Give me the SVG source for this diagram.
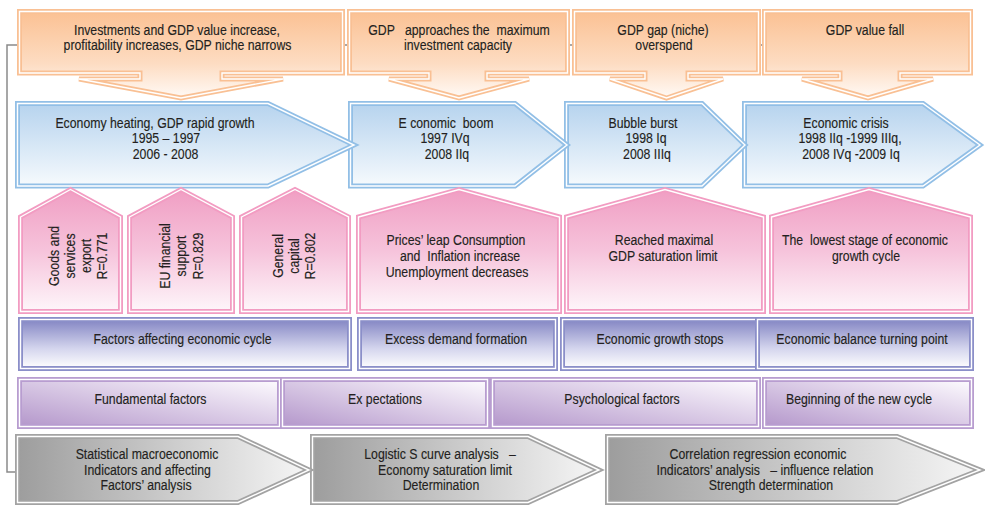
<svg xmlns="http://www.w3.org/2000/svg" xmlns:xlink="http://www.w3.org/1999/xlink" width="985" height="506" viewBox="0 0 985 506">
<style>
.t{font-family:"Liberation Sans",Arial,sans-serif;font-size:15px;fill:#231f20;stroke:#231f20;stroke-width:0.15;text-anchor:middle;transform-box:fill-box;transform-origin:center;transform:scaleX(0.82)}
.wl{fill:none;stroke:#ffffff;stroke-width:1.4}
.o{fill:url(#gOrange)} .ol{fill:none;stroke:#f9c094;stroke-width:5}
.b{fill:url(#gBlue)} .bl{fill:none;stroke:#92bfe6;stroke-width:5}
.p{fill:url(#gPink)} .pl{fill:none;stroke:#f29cc2;stroke-width:5}
.v{fill:url(#gViolet)} .vl{fill:none;stroke:#8b8fc9;stroke-width:5}
.l{fill:url(#gLav)} .ll{fill:none;stroke:#b89dd0;stroke-width:5}
.g{fill:url(#gGray)} .gl{fill:none;stroke:#a3a3a3;stroke-width:5}
.conn{fill:none;stroke:#8a8a8a;stroke-width:1.5}
</style>
<defs>
<linearGradient id="gOrange" x1="0" y1="0" x2="0" y2="1"><stop offset="0" stop-color="#fbc193"/><stop offset="0.6" stop-color="#fddcc2"/><stop offset="1" stop-color="#fffaf6"/></linearGradient>
<linearGradient id="gBlue" x1="0" y1="0" x2="0" y2="1"><stop offset="0" stop-color="#b6d3ee"/><stop offset="1" stop-color="#f6fafd"/></linearGradient>
<linearGradient id="gPink" x1="0" y1="0" x2="0" y2="1"><stop offset="0" stop-color="#f09ec3"/><stop offset="0.5" stop-color="#f6c3db"/><stop offset="1" stop-color="#fef6fa"/></linearGradient>
<linearGradient id="gViolet" x1="0" y1="0" x2="0" y2="1"><stop offset="0" stop-color="#8385c3"/><stop offset="0.6" stop-color="#d5d6ee"/><stop offset="1" stop-color="#ffffff"/></linearGradient>
<linearGradient id="gLav" x1="0" y1="1" x2="1" y2="0"><stop offset="0" stop-color="#b497cb"/><stop offset="1" stop-color="#fefcff"/></linearGradient>
<linearGradient id="gGray" x1="0" y1="0" x2="1" y2="0"><stop offset="0" stop-color="#9d9d9d"/><stop offset="1" stop-color="#f6f6f6"/></linearGradient>
<path id="sO1" d="M19.5,11.5 H342.5 V73 H222 V79 H283 L181,98 L79,79 H140 V73 H19.5 Z"/>
<path id="sO2" d="M349.5,11.5 H567.5 V73 H487 V79 H529 L459,98 L389,79 H429 V73 H349.5 Z"/>
<path id="sO3" d="M574.5,11.5 H758.5 V73 H688 V79 H723 L666.5,98 L610,79 H645 V73 H574.5 Z"/>
<path id="sO4" d="M764.5,11.5 H970.5 V73 H900 V79 H933 L868,98 L802,79 H840 V73 H764.5 Z"/>
<path id="sB1" d="M17.5,103.5 H268 L354,145 L268,186 H17.5 Z"/>
<path id="sB2" d="M350.5,103.5 H515 L567,145 L515,186 H350.5 Z"/>
<path id="sB3" d="M566.5,103.5 H702 L745,145 L702,186 H566.5 Z"/>
<path id="sB4" d="M744.5,103.5 H923 L980,145 L923,186 H744.5 Z"/>
<path id="sP1" d="M20.5,217 L70.5,189.5 L120.5,217 V311.5 H20.5 Z"/>
<path id="sP2" d="M129.5,217 L181,189.5 L232.5,217 V311.5 H129.5 Z"/>
<path id="sP3" d="M241.5,217 L295,189.5 L348.5,217 V311.5 H241.5 Z"/>
<path id="sP4" d="M358.5,217 L459,189.5 L559.5,217 V311.5 H358.5 Z"/>
<path id="sP5" d="M566.5,217 L665,189.5 L763.5,217 V311.5 H566.5 Z"/>
<path id="sP6" d="M771.5,217 L869,189.5 L970.5,217 V311.5 H771.5 Z"/>
<rect id="sV1" x="20.5" y="319.5" width="329" height="49"/>
<rect id="sV2" x="359.5" y="319.5" width="196" height="49"/>
<rect id="sV3" x="562.5" y="319.5" width="195" height="49"/>
<rect id="sV4" x="757.5" y="319.5" width="214" height="49"/>
<rect id="sL1" x="19.5" y="379.5" width="260" height="47"/>
<rect id="sL2" x="282.5" y="379.5" width="205" height="47"/>
<rect id="sL3" x="492.5" y="379.5" width="266" height="47"/>
<rect id="sL4" x="764.5" y="379.5" width="207" height="47"/>
<path id="sG1" d="M17.5,436.5 H238 L309,470 L238,502.5 H17.5 Z"/>
<path id="sG2" d="M312.5,436.5 H528 L599,470 L528,502.5 H312.5 Z"/>
<path id="sG3" d="M607.5,436.5 H897 L980,470 L897,502.5 H607.5 Z"/>
</defs>
<rect width="985" height="506" fill="#ffffff"/>
<g id="connectors">
<path class="conn" d="M973,45 H7 V472 H15"/>
</g>
<g id="blue-row">
<g id="crisis"><use href="#sB4" class="b"/><use href="#sB4" class="bl"/><use href="#sB4" class="wl"/>
<text class="t" x="846" y="128">Economic crisis</text>
<text class="t" x="850" y="143.5">1998 IIq -1999 IIIq,</text>
<text class="t" x="851" y="159.5">2008 IVq -2009 Iq</text></g>
<g id="bubble"><use href="#sB3" class="b"/><use href="#sB3" class="bl"/><use href="#sB3" class="wl"/>
<text class="t" x="643" y="128">Bubble burst</text>
<text class="t" x="646" y="143.5">1998 Iq</text>
<text class="t" x="647" y="159.5">2008 IIIq</text></g>
<g id="boom"><use href="#sB2" class="b"/><use href="#sB2" class="bl"/><use href="#sB2" class="wl"/>
<text class="t" x="446" y="128" xml:space="preserve">E conomic  boom</text>
<text class="t" x="445" y="143.5">1997 IVq</text>
<text class="t" x="447" y="159.5">2008 IIq</text></g>
<g id="heating"><use href="#sB1" class="b"/><use href="#sB1" class="bl"/><use href="#sB1" class="wl"/>
<text class="t" x="155" y="128">Economy heating, GDP rapid growth</text>
<text class="t" x="166" y="143.5">1995 – 1997</text>
<text class="t" x="165.5" y="159.5">2006 - 2008</text></g>
</g>
<g id="orange-row">
<g id="invest"><use href="#sO1" class="o"/><use href="#sO1" class="ol"/><use href="#sO1" class="wl"/>
<text class="t" x="177" y="35">Investments and GDP value increase,</text>
<text class="t" x="177.5" y="50">profitability increases, GDP niche narrows</text></g>
<g id="approach"><use href="#sO2" class="o"/><use href="#sO2" class="ol"/><use href="#sO2" class="wl"/>
<text class="t" x="459" y="35" xml:space="preserve">GDP   approaches the  maximum</text>
<text class="t" x="458" y="50">investment capacity</text></g>
<g id="gap"><use href="#sO3" class="o"/><use href="#sO3" class="ol"/><use href="#sO3" class="wl"/>
<text class="t" x="663" y="35">GDP gap (niche)</text>
<text class="t" x="664" y="50">overspend</text></g>
<g id="fall"><use href="#sO4" class="o"/><use href="#sO4" class="ol"/><use href="#sO4" class="wl"/>
<text class="t" x="865" y="35">GDP value fall</text></g>
</g>
<g id="pink-row">
<g id="export"><use href="#sP1" class="p"/><use href="#sP1" class="pl"/><use href="#sP1" class="wl"/>
<g transform="translate(0,256) rotate(-90)"><text class="t"><tspan x="0" y="59.5">Goods and</tspan><tspan x="0" y="75.5">services</tspan><tspan x="0" y="91.5">export</tspan><tspan x="0" y="107.5">R=0.771</tspan></text></g></g>
<g id="eu"><use href="#sP2" class="p"/><use href="#sP2" class="pl"/><use href="#sP2" class="wl"/>
<g transform="translate(0,256) rotate(-90)"><text class="t"><tspan x="0" y="170">EU financial</tspan><tspan x="0" y="186.5">support</tspan><tspan x="0" y="203">R=0.829</tspan></text></g></g>
<g id="capital"><use href="#sP3" class="p"/><use href="#sP3" class="pl"/><use href="#sP3" class="wl"/>
<g transform="translate(0,256) rotate(-90)"><text class="t"><tspan x="0" y="283">General</tspan><tspan x="0" y="299">capital</tspan><tspan x="0" y="315">R=0.802</tspan></text></g></g>
<g id="prices"><use href="#sP4" class="p"/><use href="#sP4" class="pl"/><use href="#sP4" class="wl"/>
<text class="t" x="456" y="245">Prices’ leap Consumption</text>
<text class="t" x="460" y="261" xml:space="preserve">and  Inflation increase</text>
<text class="t" x="457" y="277">Unemployment decreases</text></g>
<g id="reached"><use href="#sP5" class="p"/><use href="#sP5" class="pl"/><use href="#sP5" class="wl"/>
<text class="t" x="664" y="245">Reached maximal</text>
<text class="t" x="663" y="261">GDP saturation limit</text></g>
<g id="lowest"><use href="#sP6" class="p"/><use href="#sP6" class="pl"/><use href="#sP6" class="wl"/>
<text class="t" x="865" y="245" xml:space="preserve">The  lowest stage of economic</text>
<text class="t" x="866" y="261">growth cycle</text></g>
</g>
<g id="violet-row">
<g id="factors"><use href="#sV1" class="v"/><use href="#sV1" class="vl"/><use href="#sV1" class="wl"/>
<text class="t" x="182.5" y="344">Factors affecting economic cycle</text></g>
<g id="excess"><use href="#sV2" class="v"/><use href="#sV2" class="vl"/><use href="#sV2" class="wl"/>
<text class="t" x="456" y="344">Excess demand formation</text></g>
<g id="stops"><use href="#sV3" class="v"/><use href="#sV3" class="vl"/><use href="#sV3" class="wl"/>
<text class="t" x="660" y="344">Economic growth stops</text></g>
<g id="turning"><use href="#sV4" class="v"/><use href="#sV4" class="vl"/><use href="#sV4" class="wl"/>
<text class="t" x="862" y="344">Economic balance turning point</text></g>
</g>
<g id="lavender-row">
<g id="fundamental"><use href="#sL1" class="l"/><use href="#sL1" class="ll"/><use href="#sL1" class="wl"/>
<text class="t" x="150.5" y="404">Fundamental factors</text></g>
<g id="expect"><use href="#sL2" class="l"/><use href="#sL2" class="ll"/><use href="#sL2" class="wl"/>
<text class="t" x="385" y="404">Ex pectations</text></g>
<g id="psych"><use href="#sL3" class="l"/><use href="#sL3" class="ll"/><use href="#sL3" class="wl"/>
<text class="t" x="622" y="404">Psychological factors</text></g>
<g id="newcycle"><use href="#sL4" class="l"/><use href="#sL4" class="ll"/><use href="#sL4" class="wl"/>
<text class="t" x="859" y="404">Beginning of the new cycle</text></g>
</g>
<g id="gray-row">
<g id="correlation"><use href="#sG3" class="g"/><use href="#sG3" class="gl"/><use href="#sG3" class="wl"/>
<text class="t" x="758" y="459.5">Correlation regression economic</text>
<text class="t" x="765" y="475" xml:space="preserve">Indicators’ analysis   – influence relation</text>
<text class="t" x="771" y="490">Strength determination</text></g>
<g id="logistic"><use href="#sG2" class="g"/><use href="#sG2" class="gl"/><use href="#sG2" class="wl"/>
<text class="t" x="440" y="459.5" xml:space="preserve">Logistic S curve analysis   –</text>
<text class="t" x="445" y="475">Economy saturation limit</text>
<text class="t" x="441" y="490">Determination</text></g>
<g id="statistical"><use href="#sG1" class="g"/><use href="#sG1" class="gl"/><use href="#sG1" class="wl"/>
<text class="t" x="147" y="459.5">Statistical macroeconomic</text>
<text class="t" x="147.5" y="475">Indicators and affecting</text>
<text class="t" x="146" y="490">Factors’ analysis</text></g>
</g>
</svg>
